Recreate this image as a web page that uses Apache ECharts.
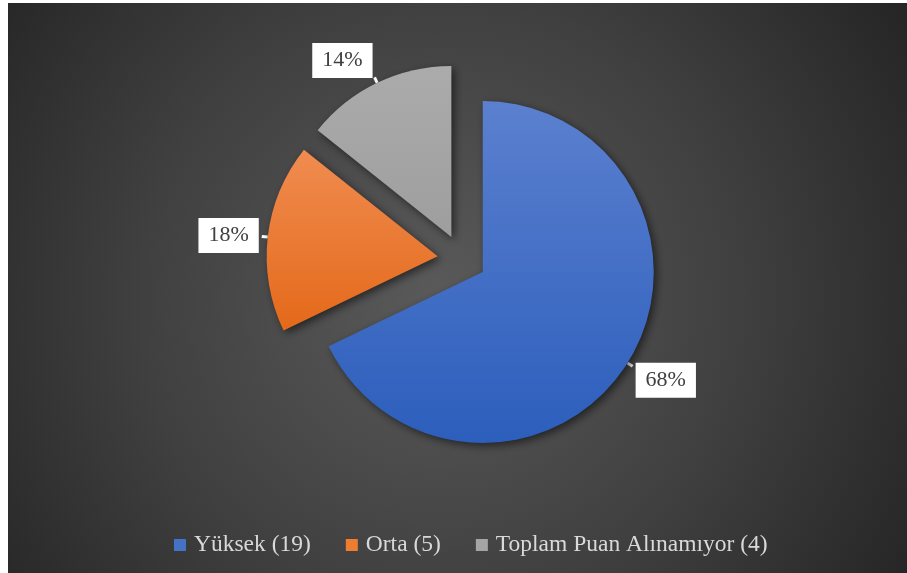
<!DOCTYPE html>
<html>
<head>
<meta charset="utf-8">
<script src="https://cdn.jsdelivr.net/npm/echarts@6/dist/echarts.min.js"></script>
<style>
  html, body { margin: 0; padding: 0; background: #ffffff; width: 907px; height: 573px; overflow: hidden; }
  #chart { position: absolute; left: 8px; top: 3px; width: 899px; height: 570px; }
</style>
</head>
<body>
<div id="chart"></div>
<script>
const categories = ['Yüksek (19)', 'Orta (5)', 'Toplam Puan Alınamıyor (4)'];
const counts = [19, 5, 4];
const legendColors = ['#4472C4', '#ED7D31', '#A5A5A5'];
const gradTop = ['#5B80CF', '#F08C50', '#ABABAB'];
const gradBottom = ['#2C5EBC', '#E4691A', '#9E9E9E'];
const labelNudge = [[-2, 14], [2, -1], [3, -17]];

const chart = echarts.init(document.getElementById('chart'), null, { renderer: 'canvas' });

const pieData = categories.map((name, i) => ({
  name: name,
  value: counts[i],
  selected: true,
  itemStyle: {
    color: {
      type: 'linear', x: 0, y: 0, x2: 0, y2: 1,
      colorStops: [{ offset: 0, color: gradTop[i] }, { offset: 1, color: gradBottom[i] }]
    }
  }
}));

const option = {
  animation: false,
  backgroundColor: {
    type: 'radial', x: 0.48, y: 0.52, r: 0.95,
    colorStops: [
      { offset: 0, color: '#5a5a5a' },
      { offset: 0.55, color: '#404040' },
      { offset: 1, color: '#262626' }
    ]
  },
  legend: {
    left: 161,
    top: 525,
    icon: 'rect',
    itemWidth: 12,
    itemHeight: 12,
    itemGap: 35,
    selectedMode: false,
    textStyle: { color: '#d9d9d9', fontFamily: 'Liberation Serif', fontSize: 23.5, padding: [0, 0, 0, 3] },
    data: categories.map((c, i) => ({ name: c, itemStyle: { color: legendColors[i] } }))
  },
  series: [{
    type: 'pie',
    center: [454, 256],
    radius: 171,
    startAngle: 90,
    clockwise: true,
    selectedMode: 'multiple',
    selectedOffset: 24.5,
    avoidLabelOverlap: false,
    emphasis: { disabled: true },
    itemStyle: {
      shadowBlur: 8,
      shadowOffsetX: 3,
      shadowOffsetY: 3,
      shadowColor: 'rgba(0,0,0,0.55)'
    },
    label: {
      show: true,
      position: 'outside',
      alignTo: 'none',
      formatter: p => Math.round(p.percent) + '%',
      color: '#404040',
      fontFamily: 'Liberation Serif',
      fontSize: 22,
      lineHeight: 22,
      backgroundColor: '#ffffff',
      padding: [7, 10, 6, 10]
    },
    labelLine: {
      show: true,
      length: 6,
      length2: 0,
      lineStyle: { color: '#ffffff', width: 3 }
    },
    labelLayout: function (params) {
      const n = labelNudge[params.dataIndex];
      return { dx: n[0], dy: n[1] };
    },
    data: pieData
  }]
};
chart.setOption(option);
</script>
</body>
</html>
